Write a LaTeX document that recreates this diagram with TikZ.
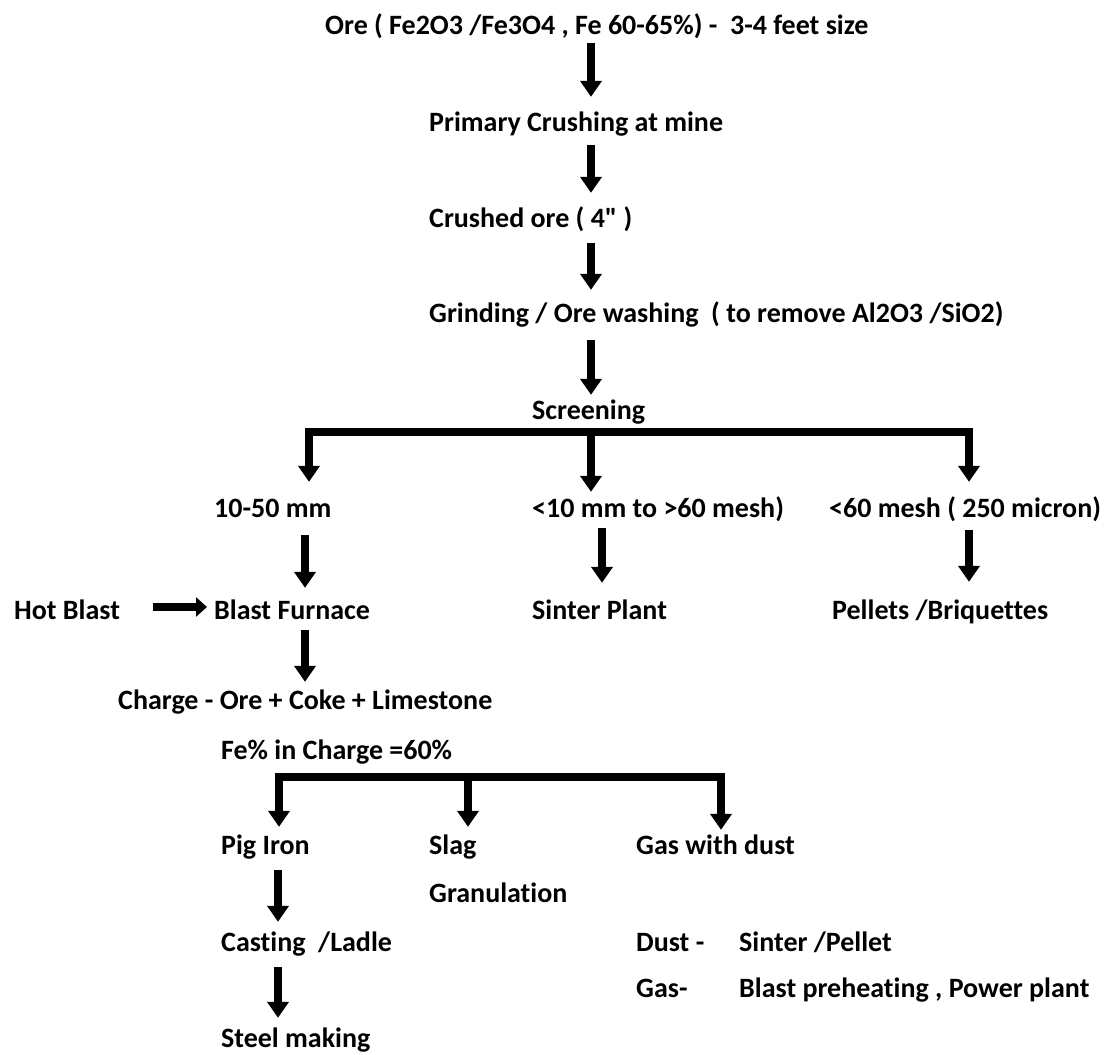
\documentclass[tikz,border=0pt]{standalone}
\usepackage{fontspec}
\setmainfont{Carlito}[Ligatures={TeXOff,CommonOff}]
\usetikzlibrary{arrows.meta}
\begin{document}
\begin{tikzpicture}[x=1pt,y=-1pt,
  lbl/.style={anchor=base west,inner sep=0pt,font=\bfseries\fontsize{28}{32}\selectfont,
              text height=20pt,text depth=6pt},
  arr/.style={line width=8.5pt,-{Triangle[width=21pt,length=16pt]}},
  bar/.style={line width=8.5pt,line cap=rect}]
\useasboundingbox (0,0) rectangle (1114,1055);

% process steps (base line positions)
\node[lbl] (ore)   at (325,34)  {Ore ( Fe2O3 /Fe3O4 , Fe 60-65\%) -\ \ 3-4 feet size};
\node[lbl] (prim)  at (429,131) {Primary Crushing at mine};
\node[lbl] (crush) at (429,227) {Crushed ore ( 4" )};
\node[lbl] (grind) at (429,322) {Grinding / Ore washing\ \ ( to remove Al2O3 /SiO2)};
\node[lbl] (scr)   at (532,419) {Screening};

% screened fractions
\node[lbl] (f1) at (214,517) {10-50 mm};
\node[lbl] (f2) at (532,517) {<10 mm to >60 mesh)};
\node[lbl] (f3) at (829,517) {<60 mesh ( 250 micron)};

\node[lbl] (hot)  at (14,619)  {Hot Blast};
\node[lbl] (bf)   at (214,619) {Blast Furnace};
\node[lbl] (sint) at (532,619) {Sinter Plant};
\node[lbl] (pel)  at (832,619) {Pellets /Briquettes};

\node[lbl] (chg)  at (118,709) {Charge - Ore + Coke + Limestone};
\node[lbl] (fe)   at (221,759) {Fe\% in Charge =60\%};

% furnace products
\node[lbl] (pig)  at (221,854) {Pig Iron};
\node[lbl] (slag) at (429,854) {Slag};
\node[lbl] (gas)  at (636,854) {Gas with dust};
\node[lbl] (gran) at (429,902) {Granulation};
\node[lbl] (cast) at (221,951) {Casting\ \ /Ladle};
\node[lbl] (steel) at (221,1047) {Steel making};
\node[lbl] (dust) at (636,951) {Dust -};
\node[lbl] (dustu) at (739,951) {Sinter /Pellet};
\node[lbl] (gasl) at (636,997) {Gas-};
\node[lbl] (gasu) at (739,997) {Blast preheating , Power plant};

% arrow columns
\coordinate (cA) at (591,0);
\coordinate (cB) at (309,0);
\coordinate (cC) at (969,0);
\coordinate (cD) at (305,0);
\coordinate (cE) at (602,0);
\coordinate (cF) at (278,0);
\coordinate (cG) at (468,0);
\coordinate (cH) at (721,0);

% main line
\draw[arr] ([yshift=-3pt]ore.south -| cA)   -- ([yshift=14pt]prim.north -| cA);
\draw[arr] ([yshift=-8pt]prim.south -| cA)  -- ([yshift=14pt]crush.north -| cA);
\draw[arr] ([yshift=-10pt]crush.south -| cA) -- ([yshift=12pt]grind.north -| cA);
\draw[arr] ([yshift=-12pt]grind.south -| cA) -- ([yshift=4pt]scr.north -| cA);

% screening split
\coordinate (s1) at (309,432);
\coordinate (s3) at (969,432);
\draw[bar] (s1) -- (s3);
\draw[arr] (s1) -- ([yshift=15pt]f1.north -| s1);
\draw[arr] (s1 -| cA) -- ([yshift=5pt]f2.north -| cA);
\draw[arr] (s3) -- ([yshift=15pt]f3.north -| s3);

\draw[arr] ([yshift=-12pt]f1.south -| cD) -- ([yshift=11pt]bf.north -| cD);
\draw[arr] ([yshift=-5pt]f2.south -| cE) -- ([yshift=16pt]sint.north -| cE);
\draw[arr] ([yshift=-7pt]f3.south -| cC) -- ([yshift=17pt]pel.north -| cC);

\draw[line width=8.5pt,-{Triangle[width=19pt,length=11pt]}]
  ([xshift=33pt,yshift=5pt]hot.east) -- ([xshift=-7pt,yshift=5pt]bf.west);
\draw[arr] ([yshift=-5pt]bf.south -| cD) -- ([yshift=7pt]chg.north -| cD);

% furnace split
\coordinate (p1) at (279,777);
\coordinate (p3) at (721,777);
\draw[bar] (p1) -- (p3);
\draw[arr] (p1) -- ([yshift=7pt]pig.north -| p1);
\draw[arr] (p1 -| cG) -- ([yshift=7pt]slag.north -| cG);
\draw[arr] (p3) -- ([yshift=4pt]gas.north -| p3);

\draw[arr] ([yshift=-10pt]pig.south -| cF) -- ([yshift=9pt]cast.north -| cF);
\draw[arr] ([yshift=-10pt]cast.south -| cF) -- ([yshift=9pt]steel.north -| cF);
\end{tikzpicture}
\end{document}
